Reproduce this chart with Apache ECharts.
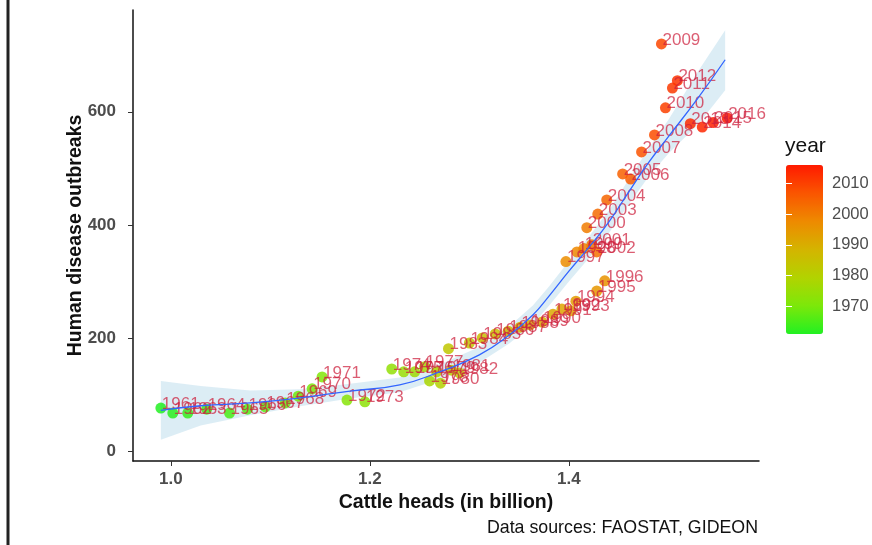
<!DOCTYPE html>
<html><head><meta charset="utf-8">
<script src="https://cdn.jsdelivr.net/npm/echarts@6/dist/echarts.min.js"></script>
<style>html,body{margin:0;padding:0;background:#fff}#c{width:872px;height:545px}</style>
</head><body><div id="c"></div>
<script>
const years = [1961,1962,1963,1964,1965,1966,1967,1968,1969,1970,1971,1972,1973,1974,1975,1976,1977,1978,1979,1980,1981,1982,1983,1984,1985,1986,1987,1988,1989,1990,1991,1992,1993,1994,1995,1996,1997,1998,1999,2000,2001,2002,2003,2004,2005,2006,2007,2008,2009,2010,2011,2012,2013,2014,2015,2016];
const cattle = [0.990,1.002,1.017,1.036,1.059,1.077,1.095,1.115,1.128,1.142,1.152,1.177,1.195,1.222,1.234,1.245,1.255,1.260,1.267,1.271,1.282,1.290,1.279,1.300,1.313,1.326,1.339,1.351,1.361,1.373,1.384,1.393,1.402,1.407,1.428,1.436,1.397,1.408,1.415,1.418,1.423,1.428,1.429,1.438,1.454,1.462,1.473,1.486,1.493,1.497,1.504,1.509,1.522,1.534,1.545,1.559];
const outbreaks = [76,67,67,74,67,74,78,85,97,110,131,90,87,145,140,140,149,124,140,120,143,138,181,191,200,207,212,219,223,228,242,251,248,265,283,301,335,352,358,395,365,352,419,444,490,481,529,559,720,607,642,655,579,573,581,589];
const smoothX  = [0.99,1.03,1.08,1.13,1.18,1.23,1.27,1.31,1.34,1.364,1.38,1.40,1.42,1.44,1.46,1.48,1.50,1.53,1.557];
const smoothY  = [72,80,85,94,106,117,140,170,205,241,274,318,360,405,458,510,556,625,692];
const smoothLo = [20,45,63,79,93,104,127,156,190,224,257,300,341,385,436,485,526,578,638];
const smoothHi = [124,115,107,109,119,130,153,184,220,258,291,336,379,425,480,535,586,672,744];
const xTicks = [1.0,1.2,1.4];
const yTicks = [0,200,400,600];
const legendTicks = [1970,1980,1990,2000,2010];

const FONT = "'Liberation Sans', Arial, sans-serif";
const chart = echarts.init(document.getElementById('c'));
const pts = years.map((y,i)=>[cattle[i], outbreaks[i], y]);
const line = smoothX.map((x,i)=>[x, smoothY[i]]);
const band = smoothX.map((x,i)=>[x, smoothLo[i], smoothHi[i]]);

chart.setOption({
  animation:false,
  textStyle:{fontFamily:FONT},
  grid:[{left:133, top:10, width:626, height:451},{left:786, top:165, width:37, height:169}],
  xAxis:[
    {gridIndex:0, type:'value', min:0.962, max:1.591, splitLine:{show:false},
     axisLine:{show:true, onZero:false, lineStyle:{color:'#111', width:1.5}},
     axisTick:{show:true, customValues:xTicks, length:5, lineStyle:{color:'#333'}},
     axisLabel:{customValues:xTicks, formatter:v=>Number(v).toFixed(1), margin:10, fontSize:17, fontWeight:'bold', color:'#4d4d4d', fontFamily:FONT},
     name:'Cattle heads (in billion)', nameLocation:'middle', nameGap:32, nameMoveOverlap:false,
     nameTextStyle:{fontSize:19.5, fontWeight:'bold', color:'#111', fontFamily:FONT}},
    {gridIndex:1, type:'value', show:false, min:0, max:1}
  ],
  yAxis:[
    {gridIndex:0, type:'value', min:-17.7, max:780, splitLine:{show:false},
     axisLine:{show:true, onZero:false, lineStyle:{color:'#111', width:1.5}},
     axisTick:{show:true, customValues:yTicks, length:5, lineStyle:{color:'#333'}},
     axisLabel:{customValues:yTicks, margin:17, fontSize:17, fontWeight:'bold', color:'#4d4d4d', fontFamily:FONT},
     name:'Human disease outbreaks', nameLocation:'middle', nameGap:47, nameMoveOverlap:false,
     nameTextStyle:{fontSize:19.5, fontWeight:'bold', color:'#111', fontFamily:FONT}},
    {gridIndex:1, type:'value', min:1961, max:2016, position:'right', z:10, splitLine:{show:false},
     axisLine:{show:false},
     axisTick:{show:true, inside:true, length:6, customValues:legendTicks, lineStyle:{color:'#fff', width:1}},
     axisLabel:{customValues:legendTicks, formatter:v=>String(Math.round(v)), margin:9, fontSize:16.5, color:'#4d4d4d', fontFamily:FONT}},
    {gridIndex:1, type:'value', min:1961, max:2016, position:'left', z:10, splitLine:{show:false},
     axisLine:{show:false},
     axisTick:{show:true, inside:true, length:6, customValues:legendTicks, lineStyle:{color:'#fff', width:1}},
     axisLabel:{show:false}}
  ],
  visualMap:{type:'continuous', min:1961, max:2016, dimension:2, seriesIndex:1,
    orient:'vertical', left:786, top:165, itemWidth:37, itemHeight:169, padding:0,
    calculable:false, text:null, hoverLink:false,
    inRange:{color:['#22F022','#7CE80A','#B2D300','#D4B400','#EE8A00','#FA5500','#FF1A00']}},
  graphic:[
    {type:'line', shape:{x1:8,y1:0,x2:8,y2:545}, style:{stroke:'#222', lineWidth:3}},
    {type:'text', right:114, top:519, style:{text:'Data sources: FAOSTAT, GIDEON', fontSize:17.8, fill:'#111', fontFamily:FONT}},
    {type:'text', left:785, top:136, style:{text:'year', fontSize:21, fill:'#111', fontFamily:FONT}}
  ],
  series:[
    {type:'custom', xAxisIndex:0, yAxisIndex:0, z:1, silent:true, data:band, encode:{x:0, y:[1,2]},
     renderItem:function(params, api){
       if (params.dataIndex !== 0) return null;
       const top = band.map(r=>api.coord([r[0], r[2]]));
       const bot = band.slice().reverse().map(r=>api.coord([r[0], r[1]]));
       return {type:'polygon', shape:{points:top.concat(bot)}, style:{fill:'rgba(178,216,232,0.45)', stroke:null}};
     }},
    {type:'scatter', xAxisIndex:0, yAxisIndex:0, z:2, data:pts, symbolSize:11,
     itemStyle:{opacity:0.85},
     label:{show:true, formatter:p=>String(p.value[2]), position:[6.5,1.5], align:'left', verticalAlign:'middle',
            fontSize:17, color:'rgba(205,30,60,0.85)', fontFamily:FONT}},
    {type:'line', xAxisIndex:0, yAxisIndex:0, z:5, data:line, smooth:true, showSymbol:false, silent:true,
     lineStyle:{color:'#3366FF', width:1.3}}
  ]
});
</script></body></html>
